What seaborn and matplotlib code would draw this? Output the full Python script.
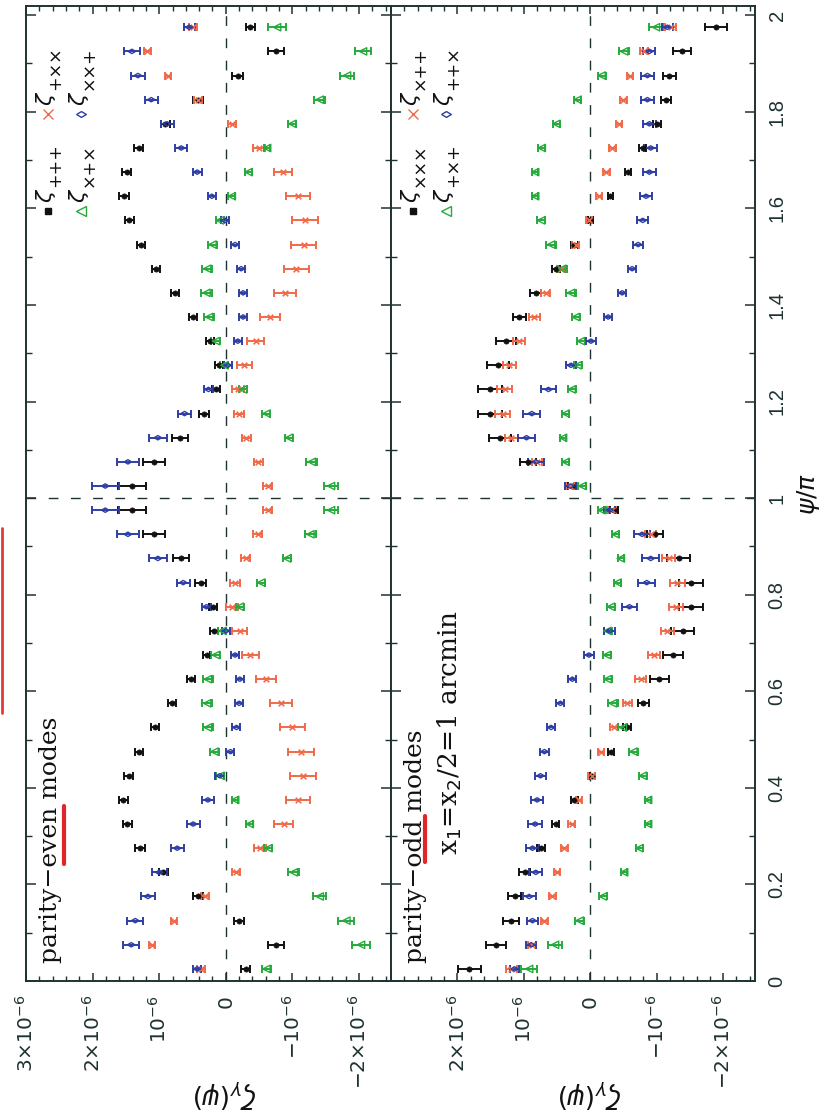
import matplotlib
matplotlib.use("Agg")
import matplotlib.pyplot as plt
from matplotlib.ticker import MultipleLocator, FixedLocator, FixedFormatter
from matplotlib.lines import Line2D
import seaborn as sns

# psi / pi bin centres
psi = [0.025, 0.075, 0.125, 0.175, 0.225, 0.275, 0.325, 0.375, 0.425, 0.475,
       0.525, 0.575, 0.625, 0.675, 0.725, 0.775, 0.825, 0.875, 0.925, 0.975,
       1.025, 1.075, 1.125, 1.175, 1.225, 1.275, 1.325, 1.375, 1.425, 1.475,
       1.525, 1.575, 1.625, 1.675, 1.725, 1.775, 1.825, 1.875, 1.925, 1.975]

# parity-even modes (units of 1e-6)
even_ppp = [-0.30, -0.76, -0.20, 0.42, 0.94, 1.29, 1.48, 1.54, 1.46, 1.31,
            1.07, 0.81, 0.53, 0.29, 0.17, 0.19, 0.38, 0.68, 1.08, 1.41,
            1.41, 1.08, 0.69, 0.33, 0.14, 0.10, 0.24, 0.49, 0.77, 1.05,
            1.28, 1.45, 1.53, 1.49, 1.31, 0.91, 0.42, -0.18, -0.75, -0.37]
even_ppp_err = [0.07, 0.12, 0.07, 0.07, 0.07, 0.07, 0.07, 0.07, 0.07, 0.06,
                0.06, 0.06, 0.06, 0.06, 0.06, 0.06, 0.08, 0.12, 0.17, 0.21,
                0.21, 0.17, 0.12, 0.08, 0.06, 0.06, 0.06, 0.06, 0.06, 0.06,
                0.06, 0.07, 0.07, 0.07, 0.07, 0.07, 0.07, 0.08, 0.12, 0.07]
even_xxp = [0.43, 1.42, 1.36, 1.17, 1.00, 0.73, 0.49, 0.27, 0.09, -0.07,
            -0.16, -0.20, -0.21, -0.14, 0.00, 0.29, 0.64, 1.02, 1.47, 1.81,
            1.81, 1.47, 1.02, 0.62, 0.26, -0.03, -0.18, -0.26, -0.26, -0.23,
            -0.14, 0.01, 0.21, 0.43, 0.67, 0.88, 1.12, 1.32, 1.41, 0.55]
even_xxp_err = [0.06, 0.12, 0.12, 0.11, 0.11, 0.10, 0.10, 0.09, 0.07, 0.06,
                0.06, 0.06, 0.06, 0.06, 0.06, 0.07, 0.10, 0.14, 0.17, 0.20,
                0.20, 0.17, 0.14, 0.10, 0.07, 0.06, 0.06, 0.06, 0.06, 0.06,
                0.06, 0.06, 0.06, 0.07, 0.09, 0.10, 0.10, 0.11, 0.12, 0.08]
even_pxx = [0.37, 1.11, 0.78, 0.32, -0.15, -0.52, -0.87, -1.08, -1.16, -1.13,
            -1.00, -0.83, -0.60, -0.37, -0.21, -0.09, -0.14, -0.30, -0.48, -0.63,
            -0.63, -0.49, -0.31, -0.20, -0.18, -0.28, -0.45, -0.67, -0.89, -1.06,
            -1.17, -1.19, -1.08, -0.86, -0.50, -0.09, 0.42, 0.87, 1.18, 0.49]
even_pxx_err = [0.06, 0.05, 0.04, 0.06, 0.06, 0.09, 0.14, 0.18, 0.19, 0.19,
                0.19, 0.17, 0.15, 0.13, 0.11, 0.09, 0.08, 0.07, 0.07, 0.07,
                0.07, 0.07, 0.07, 0.08, 0.09, 0.11, 0.13, 0.15, 0.17, 0.19,
                0.19, 0.19, 0.18, 0.14, 0.09, 0.06, 0.06, 0.04, 0.05, 0.06]
even_xpx = [-0.61, -2.03, -1.81, -1.41, -1.02, -0.64, -0.36, -0.14, 0.08, 0.17,
            0.27, 0.28, 0.27, 0.15, 0.05, -0.21, -0.53, -0.92, -1.27, -1.58,
            -1.58, -1.29, -0.95, -0.61, -0.26, 0.02, 0.15, 0.25, 0.29, 0.28,
            0.20, 0.09, -0.09, -0.34, -0.62, -1.00, -1.41, -1.82, -2.06, -0.77]
even_xpx_err = [0.07, 0.13, 0.12, 0.10, 0.08, 0.06, 0.05, 0.05, 0.06, 0.07,
                0.08, 0.08, 0.08, 0.07, 0.06, 0.06, 0.06, 0.06, 0.08, 0.10,
                0.10, 0.08, 0.06, 0.06, 0.06, 0.06, 0.07, 0.08, 0.08, 0.08,
                0.07, 0.06, 0.05, 0.05, 0.05, 0.06, 0.08, 0.10, 0.12, 0.13]

# parity-odd modes (units of 1e-6)
odd_xxx = [1.82, 1.42, 1.19, 1.14, 0.99, 0.74, 0.52, 0.24, -0.03, -0.31,
           -0.56, -0.80, -1.04, -1.24, -1.39, -1.51, -1.51, -1.33, -0.98, -0.36,
           0.28, 0.94, 1.36, 1.51, 1.51, 1.39, 1.27, 1.07, 0.82, 0.52,
           0.24, 0.00, -0.30, -0.57, -0.79, -1.01, -1.14, -1.19, -1.38, -1.89]
odd_xxx_err = [0.17, 0.15, 0.12, 0.10, 0.08, 0.06, 0.05, 0.05, 0.04, 0.05,
               0.06, 0.08, 0.14, 0.15, 0.17, 0.18, 0.18, 0.17, 0.12, 0.06,
               0.06, 0.12, 0.17, 0.18, 0.18, 0.17, 0.15, 0.10, 0.08, 0.06,
               0.05, 0.04, 0.04, 0.05, 0.05, 0.06, 0.08, 0.10, 0.14, 0.17]
odd_xpp = [1.19, 0.87, 0.69, 0.57, 0.50, 0.39, 0.28, 0.17, -0.02, -0.16,
           -0.36, -0.56, -0.76, -0.96, -1.16, -1.29, -1.31, -1.18, -0.91, -0.33,
           0.30, 0.80, 1.19, 1.32, 1.29, 1.22, 1.07, 0.84, 0.67, 0.44,
           0.22, 0.02, -0.13, -0.24, -0.33, -0.43, -0.50, -0.60, -0.81, -1.21]
odd_xpp_err = [0.08, 0.06, 0.05, 0.05, 0.05, 0.05, 0.05, 0.05, 0.05, 0.05,
               0.06, 0.07, 0.08, 0.09, 0.10, 0.11, 0.11, 0.10, 0.08, 0.06,
               0.06, 0.08, 0.10, 0.11, 0.11, 0.10, 0.09, 0.08, 0.07, 0.06,
               0.05, 0.05, 0.05, 0.05, 0.05, 0.05, 0.05, 0.05, 0.06, 0.08]
odd_pxp = [0.92, 0.53, 0.16, -0.19, -0.51, -0.74, -0.87, -0.87, -0.79, -0.65,
           -0.49, -0.34, -0.26, -0.25, -0.26, -0.31, -0.41, -0.46, -0.38, -0.17,
           0.12, 0.37, 0.41, 0.37, 0.28, 0.19, 0.14, 0.22, 0.29, 0.42,
           0.59, 0.74, 0.83, 0.83, 0.73, 0.51, 0.19, -0.17, -0.51, -0.99]
odd_pxp_err = [0.12, 0.10, 0.07, 0.06, 0.05, 0.05, 0.05, 0.05, 0.06, 0.07,
               0.07, 0.08, 0.06, 0.06, 0.06, 0.06, 0.05, 0.05, 0.05, 0.06,
               0.06, 0.05, 0.05, 0.05, 0.06, 0.06, 0.06, 0.06, 0.08, 0.07,
               0.07, 0.06, 0.05, 0.05, 0.05, 0.05, 0.05, 0.06, 0.07, 0.10]
odd_ppx = [1.14, 0.89, 0.87, 0.92, 0.82, 0.87, 0.83, 0.80, 0.75, 0.69,
           0.59, 0.45, 0.27, 0.02, -0.29, -0.59, -0.85, -0.91, -0.78, -0.29,
           0.30, 0.82, 0.96, 0.88, 0.63, 0.29, -0.01, -0.27, -0.48, -0.63,
           -0.72, -0.79, -0.84, -0.89, -0.91, -0.89, -0.86, -0.86, -0.89, -1.16]
odd_ppx_err = [0.07, 0.08, 0.09, 0.10, 0.10, 0.10, 0.10, 0.09, 0.08, 0.07,
               0.06, 0.06, 0.06, 0.07, 0.08, 0.11, 0.13, 0.13, 0.12, 0.08,
               0.08, 0.12, 0.13, 0.13, 0.11, 0.08, 0.07, 0.06, 0.06, 0.06,
               0.07, 0.08, 0.09, 0.10, 0.10, 0.10, 0.10, 0.10, 0.09, 0.08]

zeta_ticks = [-2, -1, 0, 1, 2, 3]
zeta_ticklabels = [r"$-2{\times}10^{-6}$", r"$-10^{-6}$", "0", r"$10^{-6}$",
                   r"$2{\times}10^{-6}$", r"$3{\times}10^{-6}$"]
psi_ticks = [0, 0.2, 0.4, 0.6, 0.8, 1.0, 1.2, 1.4, 1.6, 1.8, 2.0]
psi_ticklabels = ["0", "0.2", "0.4", "0.6", "0.8", "1", "1.2", "1.4", "1.6", "1.8", "2"]

BLACK = "#111111"
BLUE = "#2e3ea4"
ORANGE = "#f06a4a"
GREEN = "#25aa3c"
INK = "#1f3232"

sns.set_theme(style="ticks")
plt.rcParams["font.family"] = ["DejaVu Sans"]
plt.rcParams["mathtext.fontset"] = "dejavusans"
plt.rcParams["axes.edgecolor"] = INK
plt.rcParams["xtick.color"] = INK
plt.rcParams["ytick.color"] = INK

fig = plt.figure(figsize=(8.25, 11.2), dpi=100)
ax_even = fig.add_axes([26 / 825, 139 / 1120, 365 / 825, 975 / 1120])
ax_odd = fig.add_axes([391 / 825, 139 / 1120, 364 / 825, 975 / 1120])

diamond = [(-1.0, 0.0), (0.0, 0.6), (1.0, 0.0), (0.0, -0.6), (-1.0, 0.0)]

panels = [
    (ax_even, [
        ("ppp", even_ppp, even_ppp_err, BLACK, "o", True, "+++"),
        ("pxx", even_pxx, even_pxx_err, ORANGE, "x", True, "+\u00d7\u00d7"),
        ("xpx", even_xpx, even_xpx_err, GREEN, "<", False, "\u00d7+\u00d7"),
        ("xxp", even_xxp, even_xxp_err, BLUE, diamond, False, "\u00d7\u00d7+"),
    ], "parity\u2212even modes"),
    (ax_odd, [
        ("xxx", odd_xxx, odd_xxx_err, BLACK, "o", True, "\u00d7\u00d7\u00d7"),
        ("xpp", odd_xpp, odd_xpp_err, ORANGE, "x", True, "\u00d7++"),
        ("pxp", odd_pxp, odd_pxp_err, GREEN, "<", False, "+\u00d7+"),
        ("ppx", odd_ppx, odd_ppx_err, BLUE, diamond, False, "++\u00d7"),
    ], "parity\u2212odd modes"),
]

legend_pos = [(0.060, 0.790), (0.060, 0.889), (0.152, 0.790), (0.152, 0.889)]

for ax, series, title in panels:
    for name, vals, errs, col, mk, filled, sub in series:
        ax.errorbar(vals, psi, xerr=errs, fmt="none", ecolor=col, elinewidth=1.4,
                    capsize=2.6, capthick=1.4, zorder=2)
        if mk == "x":
            sns.scatterplot(x=vals, y=psi, ax=ax, marker="x", s=16, color=col,
                            edgecolor=None, linewidth=1.2, zorder=3, legend=False)
        elif filled:
            sns.scatterplot(x=vals, y=psi, ax=ax, marker=mk, s=14, color=col,
                            edgecolor=col, linewidth=0.5, zorder=3, legend=False)
        else:
            sns.scatterplot(x=vals, y=psi, ax=ax, marker=mk, s=28, color=col,
                            facecolor="none", edgecolor=col, linewidth=1.0,
                            zorder=3, legend=False)

    # hand-made rotated legend: marker, zeta, then a large subscript
    for (lx, ly), (name, vals, errs, col, mk, filled, sub) in zip(legend_pos, series):
        lmk = "s" if mk == "o" else mk
        ax.plot([lx], [ly], transform=ax.transAxes, marker=lmk, ls="none",
                ms=5 if lmk == "s" else 7, color=col,
                mfc=col if filled else "none", mec=col, mew=1.0, clip_on=False)
        ax.annotate(r"$\zeta$", xy=(lx, ly + 0.008), xycoords="axes fraction",
                    xytext=(-1.5, 0), textcoords="offset points", rotation=90,
                    ha="center", va="bottom", fontsize=16, color=BLACK)
        ax.annotate(sub, xy=(lx, ly + 0.008), xycoords="axes fraction",
                    xytext=(5, 11.5), textcoords="offset points", rotation=90,
                    ha="center", va="bottom", fontsize=12.5, color=BLACK)

    ax.axvline(0, color=INK, lw=1.0, ls=(0, (7, 9)), zorder=1)
    ax.axhline(1, color=INK, lw=1.0, ls=(0, (7, 9)), zorder=1)

    ax.set_xlim(3, -2.48)
    ax.set_ylim(0, 2.019)
    ax.xaxis.set_major_locator(FixedLocator(zeta_ticks))
    ax.xaxis.set_minor_locator(MultipleLocator(0.2))
    ax.yaxis.set_major_locator(FixedLocator(psi_ticks))
    ax.yaxis.set_minor_locator(MultipleLocator(0.1))
    ax.tick_params(axis="both", which="both", direction="in", top=True, right=True,
                   left=True, bottom=True, labelleft=False, labelright=False,
                   labeltop=False)
    ax.tick_params(axis="x", which="major", length=6, width=1.1, pad=10)
    ax.tick_params(axis="x", which="minor", length=3.5, width=1.0)
    ax.tick_params(axis="y", which="major", length=7.5, width=1.1)
    ax.tick_params(axis="y", which="minor", length=4.5, width=1.0)
    for sp in ax.spines.values():
        sp.set_linewidth(1.4)
        sp.set_color(INK)

    ax.xaxis.set_major_formatter(FixedFormatter(zeta_ticklabels))
    for t in ax.get_xticklabels():
        t.set_rotation(90)
        t.set_fontsize(14.5)
        t.set_color(INK)

    ax.text(0.066, 0.018, title, transform=ax.transAxes, rotation=90,
            ha="center", va="bottom", fontsize=18, family="DejaVu Serif",
            color=BLACK)

    ax.set_xlabel(r"$\zeta_\gamma(\psi)$", fontsize=19, rotation=180, color=BLACK,
                  ha="center", va="center")
    ax.set_ylabel("")

ax_even.xaxis.set_label_coords(0.545, -0.115)
ax_odd.xaxis.set_label_coords(0.547, -0.115)

# hide the 3x10^-6 label on the right panel (it sits on the shared border)
ax_odd.get_xticklabels()[-1].set_visible(False)

ax_odd.text(0.162, 0.129, r"x$_1$=x$_2$/2=1 arcmin", transform=ax_odd.transAxes,
            rotation=90, ha="center", va="bottom", fontsize=19,
            family="DejaVu Serif", color=BLACK)

ax_odd.yaxis.set_major_formatter(FixedFormatter(psi_ticklabels))
ax_odd.tick_params(axis="y", which="major", labelright=True, pad=9)
for t in ax_odd.get_yticklabels():
    t.set_rotation(90)
    t.set_fontsize(14.5)
    t.set_color(INK)
    t.set_va("center")
    t.set_family(["Liberation Sans", "DejaVu Sans"])
ax_odd.yaxis.set_label_position("right")
ax_odd.set_ylabel(r"$\psi/\pi$", fontsize=18, rotation=90, color=BLACK,
                  ha="center", va="center")
ax_odd.yaxis.set_label_coords(1.146, 0.5)

# red pen marks from the scanned page
ax_even.plot([0.104, 0.104], [0.120, 0.179], transform=ax_even.transAxes,
             color="#e0262a", lw=3, solid_capstyle="round", clip_on=False)
ax_odd.plot([0.093, 0.093], [0.122, 0.169], transform=ax_odd.transAxes,
            color="#e0262a", lw=3, solid_capstyle="round", clip_on=False)
fig.add_artist(Line2D([0.002, 0.002], [1 - 713 / 1120, 1 - 528 / 1120],
                      color="#e03a3a", lw=2))

fig.savefig("out.png", dpi=100)
